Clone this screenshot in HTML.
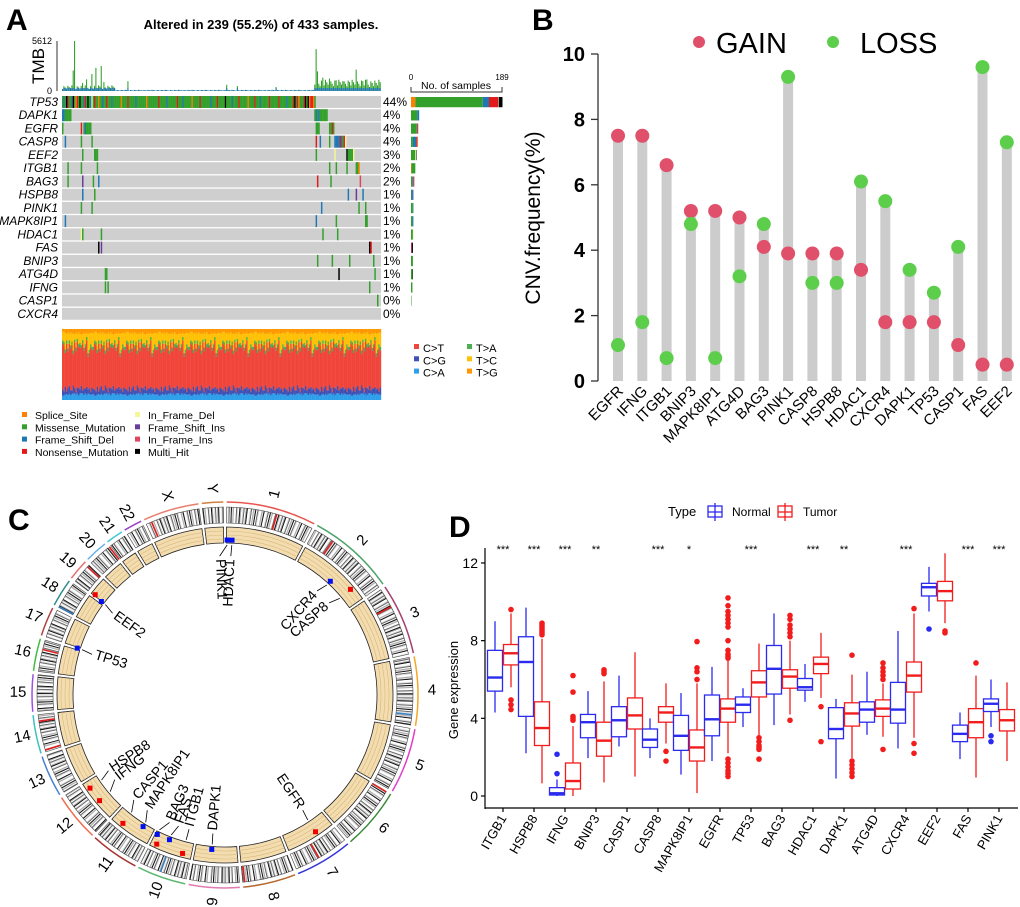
<!DOCTYPE html>
<html><head><meta charset="utf-8"><style>
html,body{margin:0;padding:0;background:#fff;}
svg{display:block;font-family:"Liberation Sans",Arial,sans-serif;}
</style></head><body>
<svg id="fig" width="1020" height="907" viewBox="0 0 1020 907" xmlns="http://www.w3.org/2000/svg">
<g id="pA">
<text x="6" y="30" font-size="30" font-weight="bold">A</text>
<text x="261" y="29" font-size="13" font-weight="bold" text-anchor="middle">Altered in 239 (55.2%) of 433 samples.</text>
<text transform="translate(44,66) rotate(-90)" font-size="17" text-anchor="middle">TMB</text>
<text x="52" y="44" font-size="9" text-anchor="end">5612</text>
<text x="52" y="94" font-size="9" text-anchor="end">0</text>
<line x1="57" y1="41" x2="57" y2="91" stroke="#333"/>
<text x="456" y="89" font-size="10.5" text-anchor="middle">No. of samples</text>
<text x="411" y="80" font-size="8" text-anchor="middle">0</text>
<text x="502" y="80" font-size="8" text-anchor="middle">189</text>
<path d="M411,87 V92 H502 V87" fill="none" stroke="#333"/>
</g>
<g id="pB">
<text x="532" y="30" font-size="30" font-weight="bold">B</text>
<circle cx="699" cy="42" r="6" fill="#E0506A"/>
<text x="716" y="53" font-size="29">GAIN</text>
<circle cx="833" cy="42" r="6" fill="#5CCE4C"/>
<text x="860" y="53" font-size="29">LOSS</text>
<text transform="translate(540,218) rotate(-90)" font-size="21" text-anchor="middle">CNV.frequency(%)</text>
</g>
<g id="pC">
<text x="8" y="530" font-size="30" font-weight="bold">C</text>
</g>
<g id="pD">
<text x="449" y="537" font-size="30" font-weight="bold">D</text>
<text x="668" y="516" font-size="13">Type</text>
<g><line x1="715" y1="503" x2="715" y2="521" stroke="#2B2BF0" stroke-width="1.3"/><rect x="708" y="506" width="14" height="11" fill="none" stroke="#2B2BF0" stroke-width="1.3"/><line x1="708" y1="512" x2="722" y2="512" stroke="#2B2BF0" stroke-width="1.3"/><text x="732" y="516" font-size="12">Normal</text></g>
<g><line x1="785" y1="503" x2="785" y2="521" stroke="#F21C1C" stroke-width="1.3"/><rect x="778" y="506" width="14" height="11" fill="none" stroke="#F21C1C" stroke-width="1.3"/><line x1="778" y1="512" x2="792" y2="512" stroke="#F21C1C" stroke-width="1.3"/><text x="803" y="516" font-size="12">Tumor</text></g>
<text transform="translate(458,690) rotate(-90)" font-size="13" text-anchor="middle">Gene expression</text>
<line x1="485" y1="548" x2="485" y2="809" stroke="#000" stroke-width="1.2"/>
<line x1="485" y1="808" x2="1018" y2="808" stroke="#000" stroke-width="1.2"/>
</g>
</svg>
<script>
// ================= Panel A data =================
const genesA = ['TP53','DAPK1','EGFR','CASP8','EEF2','ITGB1','BAG3','HSPB8','PINK1','MAPK8IP1','HDAC1','FAS','BNIP3','ATG4D','IFNG','CASP1','CXCR4'];
const pctA = ['44%','4%','4%','4%','3%','2%','2%','1%','1%','1%','1%','1%','1%','1%','1%','0%','0%'];
const nAltered = 239;
const tp53Pattern = "MFMHNMMFHMSNMHMMFNMHMFIMNMMSMMFMMNMMMFMM" + "MMMMSMMMMNMMMMMFMMMMMMMSMMMMMMMMNMMMMMFM" + "MMMMMMNMMMFMMMMMMSMMMMMNMMMMMMMFMMMMNMMM" + "MMHMMMMFMMMMNMMMMMMSMMMMNMMMFMMMMMMNMMMM" + "MMNMMMMMFMMMMNHMNSMMMNHMHSNNSM";
const altDAPK1 = [[0,'F'],[1,'F'],[2,'M'],[3,'M'],[4,'M'],[5,'M'],[6,'M'],[189,'M'],[190,'F'],[191,'M'],[192,'F'],[193,'M'],[194,'M'],[195,'M'],[196,'M'],[197,'M'],[198,'M']];
const altEGFR = [[0,'M'],[14,'N'],[16,'M'],[17,'F'],[18,'M'],[19,'M'],[20,'M'],[21,'M'],[190,'M'],[191,'M'],[192,'M'],[200,'M'],[201,'M'],[202,'N'],[203,'M']];
const altCASP8 = [[2,'F'],[14,'M'],[22,'M'],[190,'N'],[193,'F'],[200,'M'],[204,'F'],[205,'F'],[206,'F'],[207,'F'],[208,'N'],[209,'F'],[210,'M'],[211,'N'],[212,'I']];
const altEEF2 = [[15,'M'],[24,'M'],[25,'M'],[26,'M'],[190,'M'],[204,'I'],[213,'H'],[214,'M'],[215,'M'],[216,'M'],[217,'M'],[218,'I']];
const altITGB1 = [[4,'M'],[14,'M'],[26,'M'],[200,'M'],[205,'M'],[213,'M'],[220,'M'],[221,'M'],[222,'S']];
const altBAG3 = [[4,'M'],[15,'P'],[23,'M'],[27,'F'],[191,'N'],[201,'M'],[223,'R']];
const altHSPB8 = [[15,'F'],[24,'M'],[214,'F'],[220,'P'],[225,'F']];
const altPINK1 = [[14,'M'],[22,'M'],[194,'F'],[222,'M'],[227,'M']];
const altMAPK8IP1 = [[2,'F'],[190,'F'],[205,'M'],[227,'M'],[228,'M']];
const altHDAC1 = [[14,'I'],[15,'M'],[29,'M'],[195,'M'],[206,'M']];
const altFAS = [[27,'H'],[29,'P'],[230,'H'],[231,'N']];
const altBNIP3 = [[191,'M'],[202,'M'],[215,'M'],[233,'M']];
const altATG4D = [[32,'M'],[33,'M'],[207,'H'],[234,'M']];
const altIFNG = [[32,'M'],[34,'M'],[230,'M']];
const altCASP1 = [[236,'M']];
const altCXCR4 = [];
const altOthers = [altDAPK1,altEGFR,altCASP8,altEEF2,altITGB1,altBAG3,altHSPB8,altPINK1,altMAPK8IP1,altHDAC1,altFAS,altBNIP3,altATG4D,altIFNG,altCASP1,altCXCR4];
const mutTypes = ['S','M','F','N','I','P','R','H'];
const mutNames = ['Splice_Site','Missense_Mutation','Frame_Shift_Del','Nonsense_Mutation','In_Frame_Del','Frame_Shift_Ins','In_Frame_Ins','Multi_Hit'];
const mutColors = ['#FF7F00','#33A02C','#1F78B4','#E31A1C','#F5F59A','#6A3D9A','#E0455F','#000000'];
const tmbSpikeIdx = [8,9,15,18,22,25,29,31,49,123,131,160,190,191,195,200,205,210,215,220,225,228,232];
const tmbSpikeVal = [2300,5612,900,1300,1900,2600,2800,1000,1100,700,550,450,4700,2200,1500,1400,1200,1100,1000,2400,1100,1300,900];
const tmbSegStart = [0,40,189];
const tmbSegEnd = [40,189,239];
const tmbSegVal = [450,90,900];
const specNames = ['C>A','C>G','C>T','T>A','T>C','T>G'];
const specColors = ['#2E9FEA','#3F51B5','#F0453A','#4CAF50','#FFC107','#FF9800'];
const specMean = [0.08,0.08,0.58,0.04,0.16,0.06];
const specVar = [0.02,-0.05,0.08,-0.1,0.04,0.12,-0.03,-0.07,0.1,0.0,-0.12,0.05,0.07,-0.04,0.09,-0.08,0.03,-0.02,0.11,-0.06,0.01,-0.09,0.06,-0.01];

// ================= Panel B data =================
const genesB = ['EGFR','IFNG','ITGB1','BNIP3','MAPK8IP1','ATG4D','BAG3','PINK1','CASP8','HSPB8','HDAC1','CXCR4','DAPK1','TP53','CASP1','FAS','EEF2'];
const gainB = [7.5,7.5,6.6,5.2,5.2,5.0,4.1,3.9,3.9,3.9,3.4,1.8,1.8,1.8,1.1,0.5,0.5];
const lossB = [1.1,1.8,0.7,4.8,0.7,3.2,4.8,9.3,3.0,3.0,6.1,5.5,3.4,2.7,4.1,9.6,7.3];
const ticksB = [0,2,4,6,8,10];

// ================= Panel C data =================
const chrNames = ['1','2','3','4','5','6','7','8','9','10','11','12','13','14','15','16','17','18','19','20','21','22','X','Y'];
const chrSizes = [249,243,198,191,181,171,159,146,141,136,135,134,115,107,103,90,81,78,59,63,48,51,155,59];
const chrColors = ['#E8554E','#4CA36A','#A5406E','#F5A623','#E040C8','#3A8A3A','#3333DD','#B5672E','#E07BB0','#5CB870','#A83232','#EE6A4A','#4A7FD0','#3CC0C0','#A050E0','#3DBE3D','#B04040','#2E8C8C','#E87070','#6AB0E8','#40C8D8','#9A40C8','#E88070','#D08040'];
const bandPattern = "0130412003104201302400130214031002140";
const circGenes = ['PINK1','HDAC1','CXCR4','CASP8','EEF2','TP53','HSPB8','IFNG','CASP1','MAPK8IP1','BAG3','FAS','ITGB1','DAPK1','EGFR'];
const circMarkAng = [0.8,2.6,42.8,49.9,307.1,287.6,235.4,229.9,218.5,211.9,205.9,201,195,184.9,146.5];
const circLabAng = [357.8,2.4,41.5,48.5,306,287,237,232.5,221,214,203.5,199.5,195,185,146];
const circMarkType = ['loss','loss','loss','gain','loss','loss','gain','gain','gain','loss','loss','loss','gain','loss','gain'];
const extraGainAng = [307.7,204.6];
const cnvMarkAng = [16,35,62,96,121,150,174,200,253,262,284,298,313,322,337];

// ================= Panel D data =================
const genesD = ['ITGB1','HSPB8','IFNG','BNIP3','CASP1','CASP8','MAPK8IP1','EGFR','TP53','BAG3','HDAC1','DAPK1','ATG4D','CXCR4','EEF2','FAS','PINK1'];
const sigD = ['***','***','***','**','','***','*','','***','','***','**','','***','','***','***'];
const normalStats = [[4.3,5.4,6.1,7.5,9.0],[2.2,4.1,6.9,8.2,9.7],[0,0.05,0.14,0.43,0.85],[1.95,3.0,3.8,4.2,5.4],[2.55,3.05,3.9,4.6,6.2],[1.95,2.5,2.9,3.45,4.0],[1.1,2.35,3.1,4.15,5.3],[1.8,3.1,3.95,5.2,6.65],[3.55,4.3,4.7,5.1,5.55],[3.65,5.25,6.55,7.75,9.4],[4.85,5.45,5.6,6.05,6.8],[0.9,2.95,3.45,4.55,5.0],[3.15,3.8,4.45,4.85,6.4],[2.45,3.75,4.45,5.85,8.5],[9.5,10.3,10.75,10.95,11.8],[1.9,2.8,3.2,3.65,4.3],[3.55,4.35,4.75,5.0,6.0]];
const tumorStats = [[5.6,6.75,7.35,7.8,9.4],[0.65,2.6,3.5,4.85,8.1],[0,0.36,0.77,1.7,3.6],[0.7,2.05,2.85,3.8,5.9],[1.0,3.45,4.15,5.05,7.4],[2.7,3.8,4.3,4.6,5.8],[0.15,1.8,2.5,3.4,5.8],[2.2,3.8,4.5,5.0,7.0],[3.1,5.1,5.85,6.45,7.85],[4.2,5.55,6.15,6.5,8.0],[5.05,6.3,6.8,7.15,8.4],[1.95,3.6,4.25,4.8,6.25],[3.05,4.1,4.5,4.95,5.8],[3.0,5.35,6.2,6.9,9.4],[8.9,10.05,10.55,11.05,12.5],[0.95,3.0,3.8,4.5,6.2],[1.8,3.35,3.9,4.45,5.85]];
const normalOut = [[],[],[1.15,2.15],[],[],[],[],[],[],[],[],[],[],[],[8.6],[],[3.1,2.8]];
const tumorOut = [[9.6,4.95,4.7,4.45],[8.3,8.4,8.5,8.6,8.7,8.8,8.9],[3.9,4.0,4.1,5.35,6.2],[6.3,6.4,6.5],[],[2.3,1.8],[6.0,6.4,6.6,7.95],[7.1,7.2,7.3,7.5,8.0,8.7,8.9,9.1,9.3,9.5,9.8,10.2,1.9,1.7,1.5,1.3,1.15,1.0],[3.0,2.8,2.6,2.5,2.4,1.9],[3.9,8.2,8.4,8.6,8.8,9.1,9.3],[4.6,2.8],[7.25,1.8,1.6,1.4,1.2,1.0],[2.4,6.0,6.2,6.4,6.6,6.85],[9.65,2.7,2.2],[8.4,8.5],[6.85],[]];
const ticksD = [0,4,8,12];

const NS='http://www.w3.org/2000/svg';
function mk(parent, tag, attrs, txt){const e=document.createElementNS(NS,tag);for(const k in attrs)e.setAttribute(k,attrs[k]);if(txt!==undefined)e.textContent=txt;parent.appendChild(e);return e;}

// ================= Draw Panel A =================
(function(){
  const g=document.getElementById('pA');
  const x0=62, x1=381, y0=96, rowH=13.24, cw=(x1-x0)/nAltered;
  const tColor=t=>mutColors[mutTypes.indexOf(t)];
  const tmbY=v=>91-v/5612*50;
  const tmb=new Array(nAltered).fill(0);
  for(let s=0;s<tmbSegStart.length;s++)for(let i=tmbSegStart[s];i<tmbSegEnd[s];i++)tmb[i]=tmbSegVal[s]*(0.5+((i*37)%10)/10);
  tmbSpikeIdx.forEach((idx,k)=>{tmb[idx]=tmbSpikeVal[k];});
  for(let i=0;i<nAltered;i++){
    const h=91-tmbY(tmb[i]);
    let r=mk(g,'rect',{x:x0+i*cw,y:91-h,width:cw*0.8,height:h,fill:'#33A02C'});
    
    
    let b=mk(g,'rect',{x:x0+i*cw,y:91-Math.min(h,3),width:cw*0.8,height:Math.min(h,3),fill:'#1F78B4'});
    
    
  }
  genesA.forEach((gname,gi)=>{
    const y=y0+gi*rowH;
    let bg=mk(g,'rect',{x:x0,y:y,width:x1-x0,height:rowH-1.3,fill:'#CFCFCF'});
    
    
    let lab=mk(g,'text',{x:58,y:y+10,'font-size':12,'font-style':'italic','text-anchor':'end'},gname);
    
    
    let pc=mk(g,'text',{x:383,y:y+10,'font-size':12},pctA[gi]);
    
    
    const alts = gi===0 ? tp53Pattern.split('').map((t,i)=>[i,t]) : altOthers[gi-1];
    const counts=mutTypes.map(()=>0);
    alts.forEach(a=>{
      counts[mutTypes.indexOf(a[1])]++;
      let c=mk(g,'rect',{x:x0+a[0]*cw,y:y,width:cw+0.15,height:rowH-1.3,fill:tColor(a[1])});
      
      
    });
    let cx=411;
    counts.forEach((n,k)=>{
      if(!n)return;
      const w=n/189*91;
      let sb=mk(g,'rect',{x:cx,y:y+1,width:w,height:rowH-3,fill:mutColors[k]});
      
      
      cx+=w;
    });
  });
  const sy0=329, sy1=400, sh=sy1-sy0;
  for(let i=0;i<nAltered;i++){
    const v=specVar[i%specVar.length], v2=specVar[(i*7+3)%specVar.length], v3=specVar[(i*5+11)%specVar.length];
    const f=[specMean[0]+v2*0.2, specMean[1]+v*0.4, specMean[2]+v3*1.2, specMean[3]+Math.abs(v)*0.1, specMean[4]-v3*0.8, specMean[5]+v2*0.2];
    const tot=f.reduce((a,b)=>a+Math.max(b,0),0);
    let yy=sy1;
    f.forEach((fr,k)=>{
      const h=Math.max(fr,0)/tot*sh;
      let r=mk(g,'rect',{x:x0+i*cw,y:yy-h,width:cw+0.2,height:h,fill:specColors[k]});
      
      
      yy-=h;
    });
  }
  const specLegOrder=[2,1,0,3,4,5];
  specLegOrder.forEach((k,j)=>{
    const lx = j<3?418:471, ly=348+(j%3)*12.3;
    let sq=mk(g,'rect',{x:lx-4,y:ly-4,width:5,height:5,fill:specColors[k]});
    
    
    let t=mk(g,'text',{x:lx+5,y:ly+4,'font-size':11},specNames[k]);
    
    
  });
  const legOrder=[0,1,2,3,4,5,6,7];
  legOrder.forEach((k,j)=>{
    const lx = j<4?25:138, ly=415+(j%4)*12.3;
    let sq=mk(g,'rect',{x:lx-3,y:ly-3,width:5,height:5,fill:mutColors[k]});
    
    
    let t=mk(g,'text',{x:lx+10,y:ly+4,'font-size':10.5},mutNames[k]);
    
    
  });
})();

// ================= Draw Panel B =================
(function(){
  const g=document.getElementById('pB');
  const xB=i=>618+i*24.3, yB=v=>381-v*32.7;
  let ax=mk(g,'line',{x1:598,y1:yB(10),x2:598,y2:yB(0),stroke:'#333','stroke-width':1.3});
  
  
  ticksB.forEach(t=>{
    let tk=mk(g,'line',{x1:591,y1:yB(t),x2:598,y2:yB(t),stroke:'#333','stroke-width':1.3});
    
    
    let tl=mk(g,'text',{x:585,y:yB(t)+7,'font-size':20,'font-weight':'bold','text-anchor':'end'},String(t));
    
    
  });
  genesB.forEach((gn,i)=>{
    const top=Math.max(gainB[i],lossB[i]);
    let bar=mk(g,'rect',{x:xB(i)-5,y:yB(top),width:10,height:yB(0)-yB(top),fill:'#CCCCCC'});
    
    
    let lb=mk(g,'text',{transform:`translate(${xB(i)+6},${392}) rotate(-45)`,'font-size':15,'text-anchor':'end'},gn);
    
    
  });
  genesB.forEach((gn,i)=>{
    let d1=mk(g,'circle',{cx:xB(i),cy:yB(gainB[i]),r:7,fill:'#E0506A'});
    
    
    let d2=mk(g,'circle',{cx:xB(i),cy:yB(lossB[i]),r:7,fill:'#5CCE4C'});
    
    
  });
})();

// ================= Draw Panel C =================
(function(){
  const g=document.getElementById('pC');
  const cx=225, cy=695, gap=1.0;
  const total=chrSizes.reduce((a,b)=>a+b,0);
  const dpm=(360-gap*chrSizes.length)/total;
  const P=(r,a)=>{const t=a*Math.PI/180;return [cx+r*Math.sin(t), cy-r*Math.cos(t)];};
  const sector=(r1,r2,a1,a2)=>{const p1=P(r2,a1),p2=P(r2,a2),p3=P(r1,a2),p4=P(r1,a1);const lg=(a2-a1)>180?1:0;
    return `M${p1[0]},${p1[1]} A${r2},${r2} 0 ${lg} 1 ${p2[0]},${p2[1]} L${p3[0]},${p3[1]} A${r1},${r1} 0 ${lg} 0 ${p4[0]},${p4[1]} Z`;};
  const arcP=(r,a1,a2)=>{const p1=P(r,a1),p2=P(r,a2);return `M${p1[0]},${p1[1]} A${r},${r} 0 ${(a2-a1)>180?1:0} 1 ${p2[0]},${p2[1]}`;};
  const grays=['#FFFFFF','#DDDDDD','#AAAAAA','#666666','#111111'];
  let a=gap/2;
  chrSizes.forEach((sz,ci)=>{
    const a1=a, a2=a+sz*dpm;
    let oa=mk(g,'path',{d:arcP(193,a1,a2),fill:'none',stroke:chrColors[ci],'stroke-width':1.5});
    
    
    const nb=Math.max(4,Math.round(sz/3));
    for(let b=0;b<nb;b++){
      const b1=a1+(a2-a1)*b/nb, b2=a1+(a2-a1)*(b+1)/nb;
      const gl=grays[+bandPattern[(b+ci*5)%bandPattern.length]];
      let bd=mk(g,'path',{d:sector(172,188,b1,b2+0.05),fill:gl,stroke:'none'});
      
      
    }
    let io=mk(g,'path',{d:sector(172,188,a1,a2),fill:'none',stroke:'#444','stroke-width':0.6});
    
    
    let tk=mk(g,'path',{d:sector(152,168,a1,a2),fill:'#F3DDB0',stroke:'#222','stroke-width':0.8});
    
    
    [156,160,164].forEach(r=>{
      let ln=mk(g,'path',{d:arcP(r,a1,a2),fill:'none',stroke:'#D8B878','stroke-width':0.6});
      
      
    });
    const mid=(a1+a2)/2, lp=P(207,mid), rot=mid<180?mid-90:mid+90;
    let cl=mk(g,'text',{transform:`translate(${lp[0]},${lp[1]}) rotate(${rot})`,'font-size':15,'text-anchor':'middle','dominant-baseline':'middle'},chrNames[ci]);
    
    
    a=a2+gap;
  });
  cnvMarkAng.forEach((ang,k)=>{
    const p1=P(172,ang),p2=P(188,ang);
    let m=mk(g,'line',{x1:p1[0],y1:p1[1],x2:p2[0],y2:p2[1],stroke:k%4===3?'#3A7FC0':'#E02020','stroke-width':1.6});
    
    
  });
  extraGainAng.forEach(ang=>{
    const p=P(164,ang);
    let s=mk(g,'rect',{x:p[0]-2.5,y:p[1]-2.5,width:5,height:5,fill:'#F00000'});
    
    
  });
  circGenes.forEach((gn,k)=>{
    const isGain=circMarkType[k]==='gain';
    const mr=isGain?164:155;
    const p=P(mr,circMarkAng[k]);
    let s=mk(g,'rect',{x:p[0]-2.5,y:p[1]-2.5,width:5,height:5,fill:isGain?'#F00000':'#0010F0'});
    
    
    const q1=P(150,circMarkAng[k]), q2=P(139,circLabAng[k]);
    let ln=mk(g,'line',{x1:q1[0],y1:q1[1],x2:q2[0],y2:q2[1],stroke:'#000','stroke-width':0.8});
    
    
    const la=circLabAng[k], tp=P(136,la), right=la<180;
    const rot=right?la-90:la+90;
    let t=mk(g,'text',{transform:`translate(${tp[0]},${tp[1]}) rotate(${rot})`,'font-size':14,'text-anchor':right?'end':'start','dominant-baseline':'middle'},gn);
    
    
  });
})();

// ================= Draw Panel D =================
(function(){
  const g=document.getElementById('pD');
  const xD=i=>503+i*31, yD=v=>796-v*19.42;
  ticksD.forEach(t=>{
    let tk=mk(g,'line',{x1:481,y1:yD(t),x2:485,y2:yD(t),stroke:'#000','stroke-width':1.2});
    
    
    let tl=mk(g,'text',{x:478,y:yD(t)+5,'font-size':14,'text-anchor':'end'},String(t));
    
    
  });
  const drawBox=(cx,st,outs,col,nm)=>{
    let w1=mk(g,'line',{x1:cx,y1:yD(st[0]),x2:cx,y2:yD(st[4]),stroke:col,'stroke-width':1.3});
    
    
    let bx=mk(g,'rect',{x:cx-7.5,y:yD(st[3]),width:15,height:yD(st[1])-yD(st[3]),fill:'#fff',stroke:col,'stroke-width':1.3});
    
    
    let md=mk(g,'line',{x1:cx-7.5,y1:yD(st[2]),x2:cx+7.5,y2:yD(st[2]),stroke:col,'stroke-width':2.4});
    
    
    outs.forEach(o=>{
      let c=mk(g,'circle',{cx:cx,cy:yD(o),r:2.8,fill:col});
      
      
    });
  };
  genesD.forEach((gn,i)=>{
    const c=xD(i);
    drawBox(c-8,normalStats[i],normalOut[i],'#2B2BF0','normal-'+gn);
    drawBox(c+8,tumorStats[i],tumorOut[i],'#F21C1C','tumor-'+gn);
    let tk=mk(g,'line',{x1:c,y1:808,x2:c,y2:812,stroke:'#000','stroke-width':1.2});
    
    
    let lb=mk(g,'text',{transform:`translate(${c+4},${818}) rotate(-60)`,'font-size':13,'text-anchor':'end'},gn);
    
    
    if(sigD[i]){
      let s=mk(g,'text',{x:c,y:553,'font-size':11,'text-anchor':'middle'},sigD[i]);
      
      
    }
  });
})();
</script>
</body></html>
